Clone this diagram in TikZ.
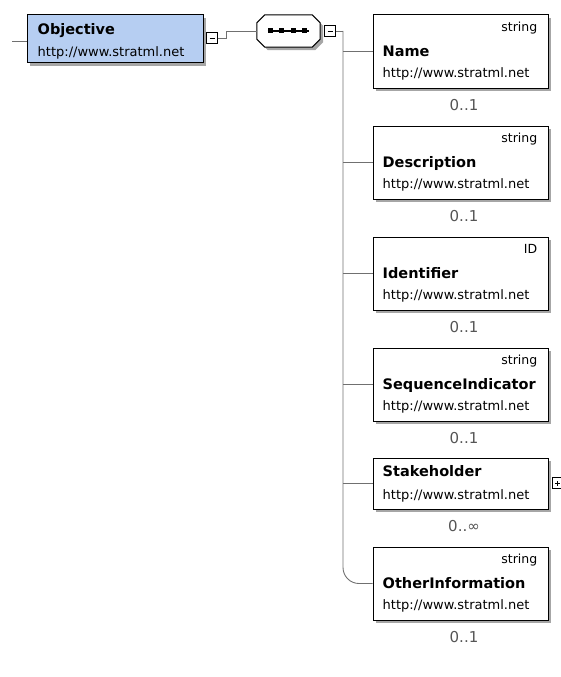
\documentclass[tikz,border=0pt]{standalone}
\usepackage{fontspec}
\setmainfont{DejaVu Sans}
\usetikzlibrary{shadows,calc}

\definecolor{objblue}{RGB}{182,206,242}
\definecolor{connGray}{RGB}{112,112,112}
\definecolor{multGray}{RGB}{85,85,85}

\begin{document}
\begin{tikzpicture}[x=1pt,y=-1pt]
    \tikzset{
        conn/.style={draw=connGray, line width=0.9pt},
        boxshadow/.style={drop shadow={shadow xshift=3pt, shadow yshift=-3pt, fill=black, opacity=0.35}},
        elem/.style={draw=black, line width=1pt, fill=white, minimum width=175pt, minimum height=73pt, inner sep=0pt, boxshadow},
        elname/.style={font=\fontsize{14.5}{16}\selectfont\bfseries, inner sep=0pt, anchor=base west},
        elurl/.style={font=\fontsize{13}{15}\selectfont, inner sep=0pt, anchor=base west},
        eltype/.style={font=\fontsize{12.5}{15}\selectfont, inner sep=0pt, anchor=base east},
        mult/.style={font=\fontsize{15}{17}\selectfont, text=multGray, inner sep=0pt, anchor=base},
        pmbox/.style={draw=black, line width=0.8pt, fill=white, minimum size=10.5pt, inner sep=0pt},
        collapsebox/.style={pmbox, path picture={
            \draw[line width=0.9pt] ([xshift=-2.5pt]path picture bounding box.center) -- ([xshift=2.5pt]path picture bounding box.center);}},
        expandbox/.style={pmbox, path picture={
            \draw[line width=0.9pt] ([xshift=-2.5pt]path picture bounding box.center) -- ([xshift=2.5pt]path picture bounding box.center);
            \draw[line width=0.9pt] ([yshift=-2.5pt]path picture bounding box.center) -- ([yshift=2.5pt]path picture bounding box.center);}},
        seqdot/.style={fill=black, minimum size=5pt, inner sep=0pt}
    }
    \useasboundingbox (0,0) rectangle (561,677);

    % parent element
    \node[elem, fill=objblue, minimum width=176pt, minimum height=48pt] (obj) at (115,39) {};
    \node[elname] at ($(obj.north west)+(11,20)$) {Objective};
    \node[elurl] at ($(obj.north west)+(11,42)$) {http://www.stratml.net};
    \coordinate (objin) at (12,41);
    \draw[conn] (objin) -- (objin -| obj.west);
    \node[collapsebox] (objminus) at (212,38) {};

    % sequence compositor (octagon drawn around an empty node)
    \node[minimum width=63pt, minimum height=32pt, inner sep=0pt] (seq) at (288.5,31) {};
    \path[draw=black, line width=1pt, fill=white, line join=round, boxshadow]
        ($(seq.north west)+(8,0)$) -- ($(seq.north east)+(-8,0)$) -- ($(seq.north east)+(0,8)$)
        -- ($(seq.south east)+(0,-8)$) -- ($(seq.south east)+(-8,0)$) -- ($(seq.south west)+(8,0)$)
        -- ($(seq.south west)+(0,-8)$) -- ($(seq.north west)+(0,8)$) -- cycle;
    \draw[line width=1.4pt] ($(seq.center)+(-21,0)$) -- ($(seq.center)+(20,0)$);
    \foreach \i in {0,...,3}
        \node[seqdot] (sd\i) at ($(seq.center)+(-18.5+\i*11.6,0)$) {};
    \draw[conn] (objminus.east) -- ++(9,0) |- (seq.west);
    \node[collapsebox] (seqminus) at (330,31) {};
    \coordinate (spine) at (343,31);
    \draw[conn] (seqminus.east) -- (spine);

    % child elements
    \foreach \id/\lbl/\typ/\cy/\mlt in {nm/Name/string/51.5/0..1, ds/Description/string/162.5/0..1,
        idf/Identifier/ID/273.5/0..1, si/SequenceIndicator/string/384.5/0..1, oi/OtherInformation/string/583.5/0..1}{
        \node[elem] (\id) at (460.5,\cy) {};
        \node[eltype] at ($(\id.north east)+(-11,17)$) {\typ};
        \node[elname] at ($(\id.north west)+(10,42)$) {\lbl};
        \node[elurl] at ($(\id.north west)+(10,63)$) {http://www.stratml.net};
        \node[mult] at ($(\id.south)+(3.5,22)$) {\mlt};
    }
    \node[elem, minimum height=51pt] (sh) at (460.5,483.5) {};
    \node[elname] at ($(sh.north west)+(10,19)$) {Stakeholder};
    \node[elurl] at ($(sh.north west)+(10,42)$) {http://www.stratml.net};
    \node[mult] at ($(sh.south)+(3.5,22)$) {0..∞};
    \node[expandbox] (shplus) at (557.5,483) {};

    \draw[conn, rounded corners=16pt] (spine) |- (oi.west);
    \foreach \id in {nm,ds,idf,si,sh}
        \draw[conn] (spine |- \id.west) -- (\id.west);
\end{tikzpicture}
\end{document}
